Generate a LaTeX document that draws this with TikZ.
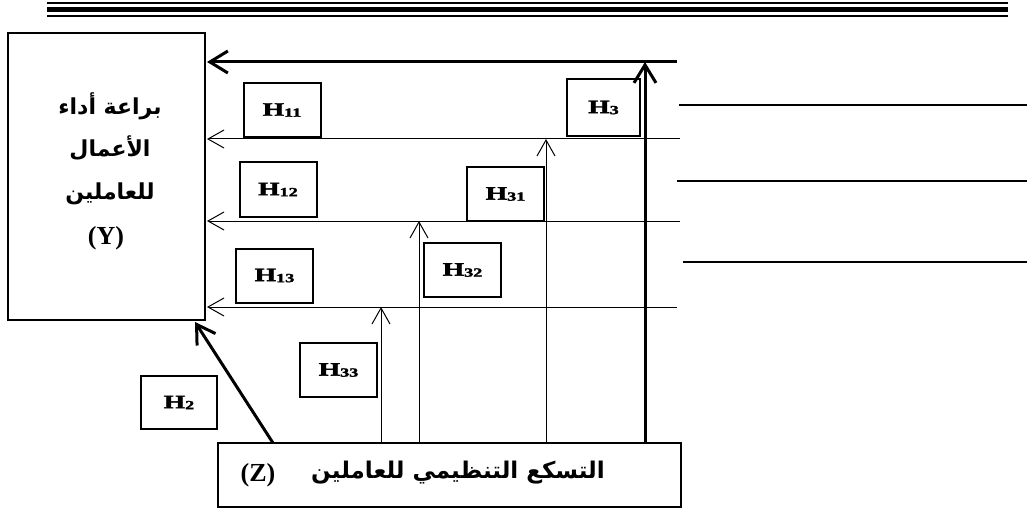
\documentclass[tikz,border=0pt]{standalone}
\usepackage{fontspec}
\usepackage{graphicx}
\setmainfont{Liberation Serif}
\newfontfamily\arabicfont[Script=Arabic]{DejaVu Sans}
\newfontfamily\hfont[FakeBold=2]{Liberation Serif Bold}
\TeXXeTstate=1
\usetikzlibrary{arrows.meta}

% hypothesis label: wide heavy H with a small index
\newcommand{\hyp}[1]{\scalebox{1.45}[1]{\hfont\fontsize{19}{19}\selectfont H\fontsize{12.5}{12.5}\selectfont\raisebox{-1pt}{#1}}}

\tikzset{
  hbox/.style={draw, line width=2pt, minimum width=77pt, minimum height=54pt, inner sep=0pt},
  mainbox/.style={draw, line width=2pt, inner sep=0pt},
  thinarrow/.style={line width=1pt, -{Straight Barb[length=16pt,width=18pt,line width=1pt]}},
  thickarrow/.style={line width=3pt, -{Straight Barb[length=18pt,width=22pt,line width=3pt]}},
  rule/.style={line width=1.3pt},
  artext/.style={font=\arabicfont\bfseries\fontsize{22}{22}\selectfont},
}

\begin{document}
\begin{tikzpicture}[x=1pt,y=-1pt]
\useasboundingbox (0,0) rectangle (1027,513);

% triple rule at the top
\draw[line width=1.5pt] (47,3) -- (1008,3);
\draw[line width=5pt] (47,10) -- (1008,10);
\draw[line width=1.5pt] (47,16) -- (1008,16);

% outcome box Y
\node[mainbox, minimum width=197pt, minimum height=287pt] (Y) at (106.5,176.5) {};
\node[artext, anchor=base] (y1) at (110,115) {\beginR براعة أداء\endR};
\node[artext, anchor=base] (y2) at (110,157) {\beginR الأعمال\endR};
\node[artext, anchor=base] (y3) at (110,200) {\beginR للعاملين\endR};
\node[font=\bfseries\fontsize{26}{26}\selectfont, anchor=base] (y4) at (106,244) {(Y)};

% source box Z
\node[mainbox, minimum width=463pt, minimum height=64pt] (Z) at (449.5,475) {};
\node[font=\bfseries\fontsize{26}{26}\selectfont] (z1) at (258,475) {(Z)};
\node[font=\arabicfont\bfseries\fontsize{23}{23}\selectfont] (z2) at (458,473) {\beginR التسكع التنظيمي للعاملين\endR};

% hypothesis boxes
\node[hbox] (H11) at (282,110) {\hyp{11}};
\node[hbox] (H12) at (278,189.5) {\hyp{12}};
\node[hbox] (H13) at (274.5,275.5) {\hyp{13}};
\node[hbox, minimum width=73pt, minimum height=57pt] (H3) at (603.5,107.5) {\hyp{3}};
\node[hbox] (H31) at (505.5,194) {\hyp{31}};
\node[hbox] (H32) at (462.5,270) {\hyp{32}};
\node[hbox] (H33) at (338.5,370) {\hyp{33}};
\node[hbox, minimum width=76pt, minimum height=53pt] (H2) at (179,402.5) {\hyp{2}};

% free ends of the horizontal connectors
\coordinate (top) at (677,62);
\coordinate (r1) at (680,139);
\coordinate (r2) at (680,221);
\coordinate (r3) at (677,307);

% tips of the vertical connectors on the horizontals
\coordinate (v3) at (645,62);
\coordinate (v1) at (546,139);
\coordinate (v2) at (419,221);
\coordinate (v0) at (381,307);

% horizontal connectors into Y
\draw[thickarrow] (top) -- ([xshift=1pt]top -| Y.east);
\draw[thinarrow] (r1) -- ([xshift=1pt]r1 -| Y.east);
\draw[thinarrow] (r2) -- ([xshift=1pt]r2 -| Y.east);
\draw[thinarrow] (r3) -- ([xshift=1pt]r3 -| Y.east);

% vertical connectors out of Z
\draw[thickarrow] (v3 |- Z.north) -- (v3);
\draw[thinarrow] (v1 |- Z.north) -- (v1);
\draw[thinarrow] (v2 |- Z.north) -- (v2);
\draw[thinarrow] (v0 |- Z.north) -- (v0);

% direct path from Z to Y
\coordinate (d0) at (273,443);
\coordinate (d1) at (195,322);
\draw[thickarrow] (d0) -- (d1);

% ruled lines on the right
\coordinate (a1) at (679,105);  \coordinate (b1) at (1027,105);
\coordinate (a2) at (677,181);  \coordinate (b2) at (1027,181);
\coordinate (a3) at (683,262);  \coordinate (b3) at (1027,262);
\draw[rule] (a1) -- (b1);
\draw[rule] (a2) -- (b2);
\draw[rule] (a3) -- (b3);
\end{tikzpicture}
\end{document}
